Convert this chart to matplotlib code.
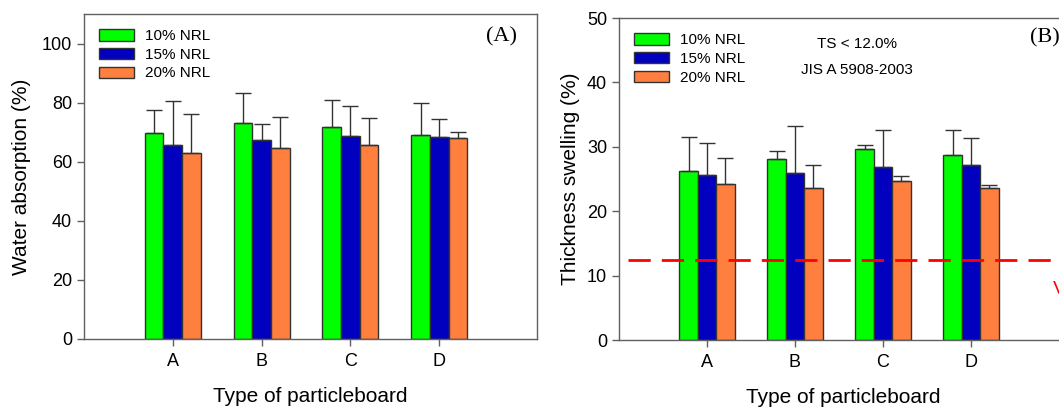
import matplotlib.pyplot as plt
import numpy as np

plt.rcParams['font.family'] = ['Liberation Sans', 'DejaVu Sans']

types = ['A', 'B', 'C', 'D']
labels = ['10% NRL', '15% NRL', '20% NRL']
colors = ['#00FF00', '#0000BE', '#FF7F3F']

# water absorption (%) and upper error
wa = [[69.7, 73.0, 71.7, 69.2],
      [65.8, 67.5, 68.8, 68.5],
      [62.9, 64.7, 65.5, 67.9]]
wa_err = [[7.8, 10.4, 9.3, 10.7],
          [14.8, 5.4, 10.1, 6.0],
          [13.4, 10.5, 9.4, 2.1]]

# thickness swelling (%) and upper error
ts = [[26.2, 28.1, 29.6, 28.7],
      [25.7, 26.0, 26.8, 27.2],
      [24.2, 23.6, 24.7, 23.6]]
ts_err = [[5.3, 1.3, 0.7, 3.9],
          [4.9, 7.2, 5.8, 4.1],
          [4.0, 3.6, 0.7, 0.5]]
ts_limit = 12.5

fig = plt.figure(figsize=(10.59, 4.07), dpi=100)
ax1 = fig.add_axes([0.0793, 0.1671, 0.4278, 0.7985])
ax2 = fig.add_axes([0.5845, 0.1646, 0.4238, 0.791])

x = np.arange(1, 5)
w = 0.21
spine_c = '#606060'


def draw(ax, vals, errs):
    for i in range(3):
        pos = x + (i - 1) * w
        ax.bar(pos, vals[i], w, color=colors[i], edgecolor='#333333',
               linewidth=1.0, label=labels[i], zorder=2)
        ax.errorbar(pos, vals[i], yerr=[np.zeros(4), errs[i]], fmt='none',
                    ecolor='#333333', elinewidth=1.0, capsize=6, capthick=1.0,
                    zorder=3)
    ax.set_xlim(0, 5.1)
    ax.set_xticks(x)
    ax.set_xticklabels(types)
    for s in ax.spines.values():
        s.set_color(spine_c)
        s.set_linewidth(1.0)
    ax.tick_params(axis='both', colors=spine_c, labelcolor='black',
                   labelsize=13, direction='out', length=5, width=1.0)
    ax.tick_params(axis='x', pad=5)
    ax.set_xlabel('Type of particleboard', fontsize=15, labelpad=12)
    ax.legend(loc='upper left', fontsize=11, frameon=False, handlelength=2.3,
              handleheight=0.75, borderaxespad=0.6, labelspacing=0.3,
              handletextpad=0.7)


draw(ax1, wa, wa_err)
ax1.set_ylim(0, 110)
ax1.set_yticks(np.arange(0, 101, 20))
ax1.set_ylabel('Water absorption (%)', fontsize=15, labelpad=8)
ax1.text(0.956, 0.93, '(A)', transform=ax1.transAxes, ha='right', va='center',
         fontsize=16, family='Liberation Serif')

draw(ax2, ts, ts_err)
ax2.set_ylim(0, 50)
ax2.set_yticks(np.arange(0, 51, 10))
ax2.set_ylabel('Thickness swelling (%)', fontsize=15, labelpad=5)
ax2.axhline(ts_limit, xmin=0.02, color='#FF0000', linestyle=(0, (8, 4)),
            linewidth=2.0, zorder=4)
ax2.text(0.53, 0.92, 'TS < 12.0%', transform=ax2.transAxes, ha='center',
         va='center', fontsize=11)
ax2.text(0.53, 0.84, 'JIS A 5908-2003', transform=ax2.transAxes,
         ha='center', va='center', fontsize=11)
ax2.text(0.983, 0.938, '(B)', transform=ax2.transAxes, ha='right',
         va='center', fontsize=16, family='Liberation Serif')
fig.text(1053 / 1059, 1 - 290 / 407, 'V', color='#FF0000', fontsize=14,
         ha='left', va='center')

fig.savefig('out.png', dpi=100)
